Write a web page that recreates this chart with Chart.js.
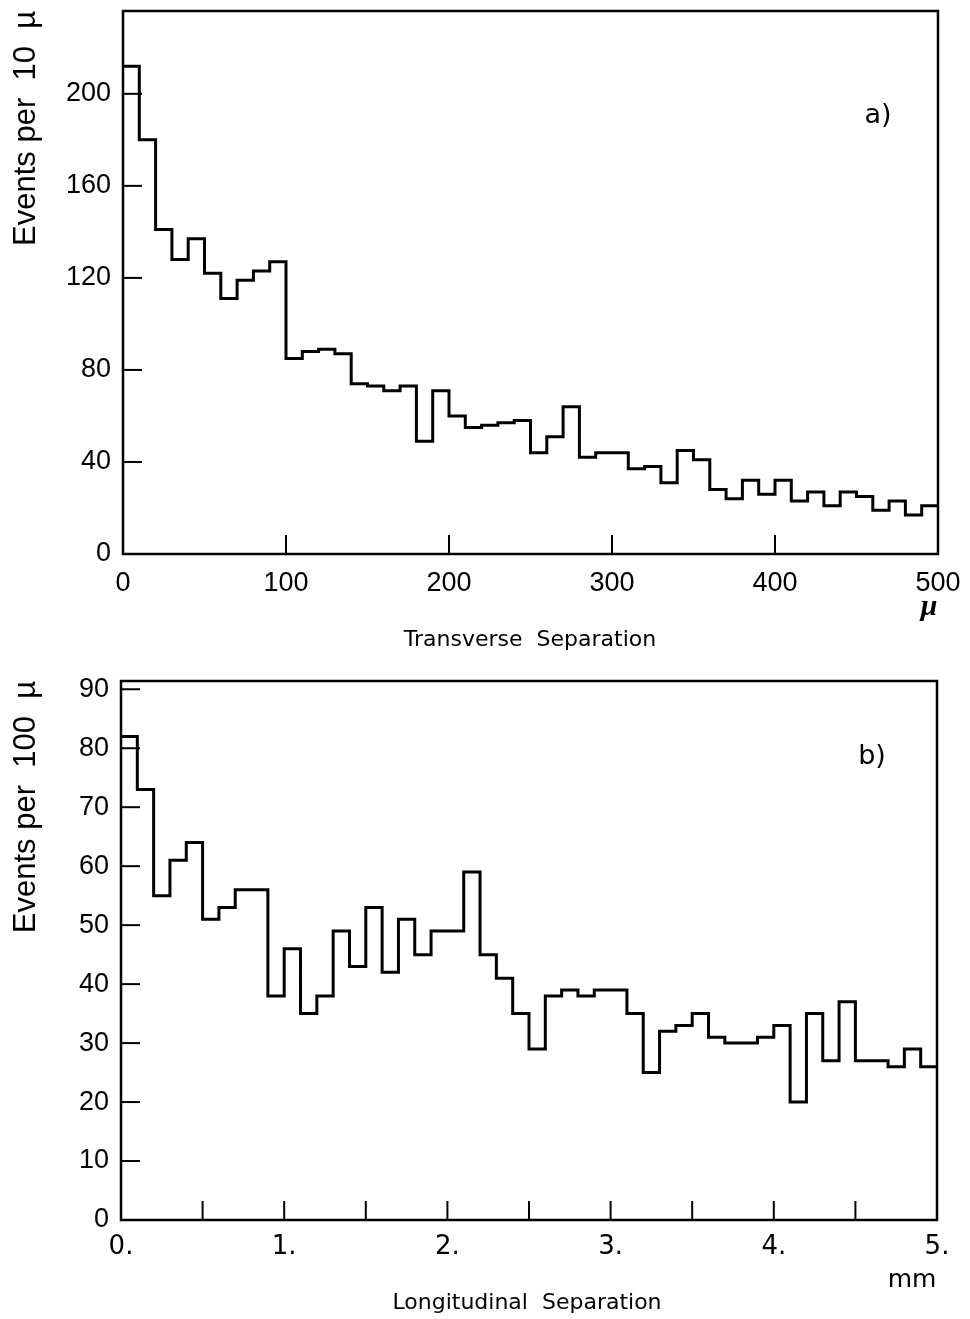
<!DOCTYPE html>
<html>
<head>
<meta charset="utf-8">
<script src="https://cdn.jsdelivr.net/npm/chart.js@4.4.0/dist/chart.umd.min.js"></script>
<style>
    html, body { margin: 0; padding: 0; background: #fff; }
    .panel { position: absolute; left: 0; width: 970px; }
    #topPanel { top: 0; height: 660px; }
    #bottomPanel { top: 660px; height: 659px; }
</style>
</head>
<body>
<div class="panel" id="topPanel"><canvas id="transverseChart"></canvas></div>
<div class="panel" id="bottomPanel"><canvas id="longitudinalChart"></canvas></div>
<script>
// a) transverse separation, 10 µ bins from 0 to 500 µ
const transverseBinWidth = 10;
const transverseCounts = [
    212, 180, 141, 128, 137, 122, 111, 119, 123, 127,
    85, 88, 89, 87, 74, 73, 71, 73, 49, 71,
    60, 55, 56, 57, 58, 44, 51, 64, 42, 44,
    44, 37, 38, 31, 45, 41, 28, 24, 32, 26,
    32, 23, 27, 21, 27, 25, 19, 23, 17, 21
];
const transverseXTicks = [0, 100, 200, 300, 400, 500];
const transverseXLabels = ['0', '100', '200', '300', '400', '500'];
const transverseYTicks = [0, 40, 80, 120, 160, 200];

// b) longitudinal separation, 0.1 mm bins from 0 to 5 mm
const longitudinalBinWidth = 0.1;
const longitudinalCounts = [
    82, 73, 55, 61, 64, 51, 53, 56, 56, 38,
    46, 35, 38, 49, 43, 53, 42, 51, 45, 49,
    49, 59, 45, 41, 35, 29, 38, 39, 38, 39,
    39, 35, 25, 32, 33, 35, 31, 30, 30, 31,
    33, 20, 35, 27, 37, 27, 27, 26, 29, 26
];
const longitudinalXTicks = [0, 0.5, 1, 1.5, 2, 2.5, 3, 3.5, 4, 4.5, 5];
const longitudinalXLabels = ['0.', '', '1.', '', '2.', '', '3.', '', '4.', '', '5.'];
const longitudinalYTicks = [0, 10, 20, 30, 40, 50, 60, 70, 80, 90];

function histogramPoints(counts, binWidth) {
    const points = counts.map((c, i) => ({ x: i * binWidth, y: c }));
    // closing point so the last bin runs to the right edge
    points.push({ x: counts.length * binWidth, y: counts[counts.length - 1] });
    return points;
}

// box round the plot area plus inward tick marks
const framePlugin = {
    id: 'frame',
    afterDraw(chart) {
        const { ctx, chartArea: a, scales } = chart;
        const len = 19;
        ctx.save();
        ctx.strokeStyle = '#000';
        ctx.lineWidth = 2;
        scales.x.ticks.forEach(t => {
            if (t.value <= scales.x.min || t.value >= scales.x.max) return;
            const px = scales.x.getPixelForValue(t.value);
            ctx.beginPath();
            ctx.moveTo(px, a.bottom);
            ctx.lineTo(px, a.bottom - len);
            ctx.stroke();
        });
        scales.y.ticks.forEach(t => {
            if (t.value <= scales.y.min || t.value >= scales.y.max) return;
            const py = scales.y.getPixelForValue(t.value);
            ctx.beginPath();
            ctx.moveTo(a.left, py);
            ctx.lineTo(a.left + len, py);
            ctx.stroke();
        });
        ctx.lineWidth = 2.5;
        ctx.strokeRect(a.left, a.top, a.right - a.left, a.bottom - a.top);
        ctx.restore();
    }
};

// free text: panel letter, unit and axis caption
const notesPlugin = {
    id: 'notes',
    afterDraw(chart, args, opts) {
        const ctx = chart.ctx;
        ctx.save();
        ctx.fillStyle = '#000';
        ctx.textBaseline = 'middle';
        (opts.items || []).forEach(item => {
            ctx.font = item.font;
            ctx.textAlign = item.align || 'center';
            ctx.fillText(item.text, item.x, item.y);
        });
        ctx.restore();
    }
};

function makeHistogram(canvasId, cfg) {
    const ctx = document.getElementById(canvasId).getContext('2d');
    return new Chart(ctx, {
        type: 'line',
        data: {
            datasets: [{
                data: histogramPoints(cfg.counts, cfg.binWidth),
                stepped: 'before',
                borderColor: '#000',
                borderWidth: 3,
                pointRadius: 0,
                fill: false,
                tension: 0
            }]
        },
        options: {
            responsive: true,
            maintainAspectRatio: false,
            animation: false,
            events: [],
            layout: { padding: cfg.padding },
            plugins: {
                legend: { display: false },
                tooltip: { enabled: false },
                notes: { items: cfg.notes }
            },
            scales: {
                x: {
                    type: 'linear',
                    min: cfg.xMin,
                    max: cfg.xMax,
                    grid: { display: false, drawTicks: false },
                    border: { display: false },
                    afterBuildTicks: scale => {
                        scale.ticks = cfg.xTicks.map(v => ({ value: v }));
                    },
                    afterFit: scale => {
                        scale.height = cfg.xAxisHeight;
                        scale.paddingLeft = 0;
                        scale.paddingRight = 0;
                    },
                    ticks: {
                        autoSkip: false,
                        maxRotation: 0,
                        padding: cfg.xTickPadding,
                        color: '#000',
                        font: cfg.xTickFont,
                        callback: (value, index) => cfg.xLabels[index]
                    }
                },
                y: {
                    type: 'linear',
                    min: 0,
                    max: cfg.yMax,
                    grid: { display: false, drawTicks: false },
                    border: { display: false },
                    afterBuildTicks: scale => {
                        scale.ticks = cfg.yTicks.map(v => ({ value: v }));
                    },
                    afterFit: scale => {
                        scale.width = cfg.yAxisWidth;
                        scale.paddingTop = 0;
                        scale.paddingBottom = 0;
                    },
                    ticks: {
                        padding: 12,
                        color: '#000',
                        font: { family: 'Liberation Sans', size: 27 }
                    },
                    title: {
                        display: true,
                        text: cfg.yTitle,
                        align: 'end',
                        color: '#000',
                        padding: { top: 8 },
                        font: { family: 'Liberation Sans', size: 31 }
                    }
                }
            }
        },
        plugins: [framePlugin, notesPlugin]
    });
}

makeHistogram('transverseChart', {
    counts: transverseCounts,
    binWidth: transverseBinWidth,
    xMin: 0,
    xMax: 500,
    xTicks: transverseXTicks,
    xLabels: transverseXLabels,
    yTicks: transverseYTicks,
    yMax: 236,
    yTitle: 'Events per  10  µ',
    padding: { top: 11, right: 32, left: 0, bottom: 0 },
    yAxisWidth: 123,
    xAxisHeight: 106,
    xTickPadding: 13,
    xTickFont: { family: 'Liberation Sans', size: 27 },
    notes: [
        { text: 'a)', x: 878, y: 116, font: '27px "DejaVu Sans"' },
        { text: 'µ', x: 929, y: 607, font: 'italic bold 30px "Liberation Serif"' },
        { text: 'Transverse  Separation', x: 530, y: 640, font: '22px "DejaVu Sans"' }
    ]
});

makeHistogram('longitudinalChart', {
    counts: longitudinalCounts,
    binWidth: longitudinalBinWidth,
    xMin: 0,
    xMax: 5,
    xTicks: longitudinalXTicks,
    xLabels: longitudinalXLabels,
    yTicks: longitudinalYTicks,
    yMax: 91.4,
    yTitle: 'Events per  100  µ',
    padding: { top: 21, right: 33, left: 0, bottom: 0 },
    yAxisWidth: 121,
    xAxisHeight: 99,
    xTickPadding: 12,
    xTickFont: { family: 'DejaVu Sans', size: 26 },
    notes: [
        { text: 'b)', x: 872, y: 97, font: '27px "DejaVu Sans"' },
        { text: 'mm', x: 912, y: 620, font: '25px "DejaVu Sans"' },
        { text: 'Longitudinal  Separation', x: 527, y: 643, font: '22px "DejaVu Sans"' }
    ]
});
</script>
</body>
</html>
